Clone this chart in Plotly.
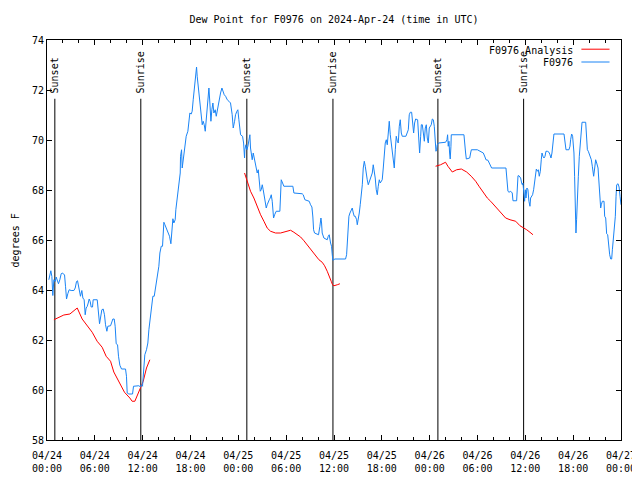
import pandas as pd
import plotly.graph_objects as go

BASE = pd.Timestamp("2024-04-24 00:00")

# Observations (hours since 2024-04-24 00:00 UTC, dew point degF)
obs_hours = [
    0.23,0.36,0.48,0.61,0.73,0.86,1.02,1.15,1.28,1.44,1.61,1.78,1.90,2.20,2.32,2.45,2.61,2.78,3.03,3.37,3.54,3.70,3.83,3.95,4.08,4.20,4.37,4.50,4.66,4.79,4.91,5.04,5.17,5.29,5.42,5.54,5.71,5.79,6.30,6.38,6.50,6.59,6.71,6.88,7.05,7.21,7.34,7.51,7.63,7.97,8.09,8.26,8.43,8.55,8.68,8.85,8.97,9.14,9.35,9.85,9.97,10.06,10.27,10.73,10.85,11.52,11.73,11.81,11.98,12.15,12.27,12.48,12.65,12.78,12.99,13.11,13.28,13.45,13.57,13.74,13.87,14.03,14.16,14.33,14.49,14.66,14.79,15.00,15.20,15.37,15.54,15.66,15.79,15.91,16.08,16.16,
    16.33,16.46,16.58,16.71,16.75,16.88,16.96,17.08,17.21,17.34,17.46,17.67,17.84,17.92,18.09,18.21,18.34,18.47,18.59,18.76,18.84,18.97,19.09,19.26,19.39,19.47,19.59,19.72,19.85,19.97,20.10,20.22,20.31,20.43,20.56,20.68,20.81,20.93,21.10,21.23,21.35,21.48,21.65,21.77,21.94,22.06,22.23,22.40,22.61,22.82,23.02,23.23,23.36,23.53,23.65,23.82,23.94,24.07,24.20,
    24.28,24.53,24.66,24.78,24.82,24.95,25.07,25.20,25.32,25.45,25.53,25.66,25.74,25.87,25.99,26.12,26.24,26.37,26.50,26.62,26.75,26.87,27.00,27.12,27.25,27.37,27.50,27.62,27.75,27.88,28.00,28.13,28.25,28.34,28.42,28.55,28.75,29.21,29.30,29.38,29.55,29.71,30.84,30.97,32.01,32.14,32.35,32.89,33.06,33.23,33.35,33.44,33.56,34.06,34.23,34.36,34.44,34.52,34.73,35.15,35.28,35.40,35.57,35.69,35.78,35.86,36.11,
    37.45,37.58,37.66,37.79,37.87,38.00,38.17,38.29,38.42,38.54,38.67,38.84,38.92,39.04,39.17,39.29,39.42,39.55,39.67,39.80,39.92,40.05,40.17,40.30,40.42,40.55,40.67,40.80,40.92,41.05,41.17,41.30,41.43,41.55,41.68,41.80,42.05,42.18,42.31,42.43,42.56,42.68,42.81,42.93,43.06,43.18,43.31,43.44,43.56,43.69,43.81,43.94,44.06,44.19,44.31,44.44,44.56,45.02,45.19,45.32,45.44,45.57,45.74,45.86,45.99,46.11,46.24,46.49,46.62,46.74,46.87,46.95,47.08,47.20,47.33,47.45,47.58,47.70,47.83,47.95,48.08,48.20,48.33,48.46,48.58,
    48.70,48.79,48.87,48.95,49.12,49.79,50.00,50.17,50.25,50.33,50.42,50.50,50.58,50.67,50.71,52.30,52.39,52.51,52.60,53.02,53.14,53.23,53.98,54.31,54.48,54.73,54.94,55.06,55.31,55.48,55.65,55.77,57.57,57.69,57.82,57.95,58.16,58.36,58.45,58.91,58.99,59.08,59.20,59.41,59.54,59.62,59.70,59.83,59.91,60.00,60.08,60.20,60.33,60.45,60.58,
    60.66,60.79,60.91,61.04,61.17,61.29,61.38,61.50,61.63,61.75,61.88,62.00,62.09,62.21,62.34,62.47,62.59,62.76,62.97,63.09,63.22,63.34,63.47,63.59,64.85,64.97,65.10,65.47,65.60,65.68,65.81,65.93,66.02,66.10,66.18,66.27,66.35,66.43,66.52,66.65,66.77,66.90,67.02,67.11,67.57,67.61,67.69,67.78,67.90,68.03,68.15,68.28,68.40,68.49,68.57,68.70,68.82,68.95,69.03,69.12,69.20,69.28,69.37,69.45,69.53,69.66,69.87,69.95,70.08,70.20,70.33,70.45,70.58,70.71,70.83,70.92,71.04,71.17,71.29,71.38,71.46,71.63,71.76,71.88,72.00,
]
obs_dewpt = [
    64.41,64.61,64.77,64.54,63.78,64.41,64.34,64.52,64.41,64.25,64.41,64.65,64.68,64.61,64.15,63.64,63.85,64.01,63.98,63.98,64.08,64.34,64.37,64.15,64.01,63.75,63.98,63.68,63.61,63.01,63.28,63.34,63.48,63.64,63.54,63.32,63.32,63.61,63.61,63.34,62.88,62.65,62.88,63.21,63.24,63.01,62.61,62.35,62.55,62.57,62.68,62.84,62.84,62.55,61.85,61.81,61.35,60.99,60.84,60.84,60.55,59.88,59.84,59.84,60.15,60.17,60.12,60.21,60.15,61.15,61.41,61.61,61.88,62.41,62.95,63.41,63.75,63.75,64.01,64.41,64.75,64.95,65.48,65.75,65.75,66.71,66.61,66.41,66.28,66.15,65.85,66.55,66.85,66.68,66.81,67.21,
    67.61,68.01,68.28,68.68,69.35,69.61,68.88,69.21,69.48,70.01,70.15,70.35,70.81,71.08,71.04,71.15,71.61,72.01,72.48,72.92,72.55,72.15,71.88,71.35,70.95,70.61,70.75,70.61,70.35,70.81,71.48,71.75,72.08,71.48,70.75,71.21,71.48,71.08,71.21,70.95,71.15,71.48,71.68,71.88,72.08,71.95,71.81,71.75,71.61,71.55,71.48,71.01,70.48,70.75,71.01,71.15,71.21,70.81,70.48,
    70.21,70.15,69.88,69.28,69.61,69.81,69.61,69.75,70.08,70.21,69.68,69.41,69.21,69.48,69.28,68.95,68.81,68.68,68.81,68.28,67.95,68.01,68.21,68.01,67.81,67.61,67.28,67.41,67.55,67.61,67.68,67.81,67.55,67.15,66.88,67.01,67.15,67.15,67.61,68.41,68.28,68.15,68.15,67.88,67.85,67.81,67.61,67.55,67.41,67.32,66.92,66.41,66.28,66.21,66.55,66.88,66.68,66.28,66.08,66.01,66.15,66.21,65.88,65.75,65.41,65.19,65.24,
    65.24,65.41,65.75,66.41,66.95,67.08,67.21,67.28,67.08,66.95,66.95,66.81,66.61,66.81,67.08,67.41,67.75,68.21,68.88,69.15,68.95,68.61,68.41,68.21,68.35,68.41,68.55,68.68,69.01,68.75,68.48,68.01,67.81,68.15,68.41,68.28,68.41,68.88,69.41,69.88,70.01,69.81,70.28,70.75,70.21,69.88,69.41,69.08,68.88,69.61,70.15,69.95,69.88,70.55,70.81,70.28,70.15,70.15,70.28,70.41,71.01,71.11,71.11,70.61,70.28,70.68,70.84,70.81,70.28,69.48,70.15,70.61,70.61,70.28,69.95,70.48,70.61,70.08,69.88,70.48,70.55,70.61,70.84,70.81,70.55,
    69.81,69.55,69.61,69.81,69.88,69.88,69.91,70.01,70.21,69.75,69.95,69.48,69.24,69.75,70.21,70.21,69.75,69.48,69.24,69.28,69.48,69.61,69.61,69.55,69.51,69.48,69.32,69.21,69.19,69.08,69.01,68.88,68.88,68.41,67.95,67.91,67.95,67.88,67.57,67.57,68.01,68.57,68.57,68.48,68.28,68.21,68.28,67.85,67.55,68.01,67.68,68.08,68.01,67.55,67.35,
    67.68,67.77,67.81,68.01,68.35,68.68,68.84,68.75,68.81,68.55,68.75,69.21,69.48,69.35,69.28,69.35,69.55,69.55,69.51,69.41,69.28,69.48,69.95,70.24,70.24,69.95,69.61,69.61,69.75,70.01,70.24,70.15,69.88,69.48,68.55,67.21,66.28,66.81,67.88,68.55,69.35,70.01,70.41,70.71,70.71,70.41,69.95,69.61,69.55,69.41,69.28,69.21,68.95,68.75,68.55,68.88,69.21,69.08,69.01,68.88,68.48,68.01,67.68,67.28,67.41,67.55,67.55,66.95,66.88,66.25,66.21,65.75,65.41,65.24,65.24,65.61,66.01,66.55,66.95,67.75,68.21,68.25,68.12,67.75,67.41,
]

# Analysis (three overnight segments, None = gap)
ana_hours = [
    0.86,2.11,2.87,3.79,4.41,5.04,5.67,6.29,6.92,7.42,7.97,8.38,9.10,9.72,10.39,10.68,11.02,11.56,12.07,12.48,12.90, None,
    24.78,25.20,25.53,25.95,26.37,26.79,27.21,27.62,28.04,28.67,29.30,29.93,30.55,30.97,31.39,31.81,32.23,32.64,33.06,33.48,34.11,34.52,34.82,35.15,35.44,35.65,35.82,35.99,36.41,36.74, None,
    48.74,49.37,49.99,50.29,50.84,51.38,51.97,52.64,53.22,53.77,54.19,54.60,55.23,55.65,56.07,56.48,56.90,57.53,58.08,58.79,59.33,59.83,60.17,60.58,60.96,
]
ana_dewpt = [
    62.81,63.00,63.04,63.28,62.84,62.59,62.31,61.95,61.71,61.35,61.15,60.72,60.25,59.91,59.68,59.55,59.55,59.94,60.35,60.88,61.21, None,
    68.68,68.25,67.95,67.68,67.32,67.01,66.75,66.48,66.35,66.28,66.28,66.33,66.39,66.31,66.21,66.12,65.97,65.81,65.64,65.45,65.21,65.11,64.97,64.75,64.55,64.35,64.21,64.17,64.21,64.25, None,
    68.95,69.01,69.11,68.95,68.72,68.81,68.84,68.72,68.55,68.35,68.15,67.95,67.68,67.55,67.39,67.25,67.11,66.88,66.81,66.75,66.57,66.48,66.41,66.31,66.21,
]

sun_event_times = ["2024-04-24 00:59", "2024-04-24 11:46", "2024-04-25 01:04",
                   "2024-04-25 11:52", "2024-04-26 01:02", "2024-04-26 11:47"]
sun_event_names = ["Sunset", "Sunrise", "Sunset", "Sunrise", "Sunset", "Sunrise"]

y_min, y_max = 58, 74
sun_line_top = 71.65

FONT = "DejaVu Sans Mono"

# The page body has an 8px default margin, so the figure is 8px smaller
# on the top/left side to keep the plot area where the reference has it.
FIG_W, FIG_H = 632, 472


def to_time(hours):
    return [None if h is None else BASE + pd.Timedelta(hours=h) for h in hours]


fig = go.Figure()

# Sun event lines
for t in sun_event_times:
    fig.add_trace(go.Scatter(x=[t, t], y=[y_min, sun_line_top], mode="lines",
                             line=dict(color="black", width=1), showlegend=False,
                             hoverinfo="skip"))

fig.add_trace(go.Scatter(x=to_time(ana_hours), y=ana_dewpt, mode="lines",
                         line=dict(color="#ff0000", width=1), name="F0976 Analysis",
                         connectgaps=False, showlegend=False))
fig.add_trace(go.Scatter(x=to_time(obs_hours), y=obs_dewpt, mode="lines",
                         line=dict(color="#1a84f5", width=1), name="F0976",
                         showlegend=False))

annotations = []
for t, name in zip(sun_event_times, sun_event_names):
    annotations.append(dict(x=t, y=0.861, xref="x", yref="paper", text=name,
                            textangle=-90, showarrow=False, xanchor="center",
                            yanchor="bottom", font=dict(family=FONT, size=10, color="black")))

# custom gnuplot-style key (text, then line sample)
key_items = [("F0976 Analysis", "#ff0000", 0.975), ("F0976", "#1a84f5", 0.943)]
shapes = []
for label, color, yk in key_items:
    annotations.append(dict(x=0.92, y=yk, xref="paper", yref="paper", text=label,
                            showarrow=False, xanchor="right", yanchor="middle",
                            font=dict(family=FONT, size=10, color="black")))
    shapes.append(dict(type="line", xref="paper", yref="paper", x0=0.931, x1=0.980,
                       y0=yk + 0.002, y1=yk + 0.002, line=dict(color=color, width=1)))

annotations.append(dict(x=-0.055, y=0.5, xref="paper", yref="paper", text="degrees F",
                        textangle=-90, showarrow=False, xanchor="center", yanchor="middle",
                        font=dict(family=FONT, size=10, color="black")))

fig.update_layout(
    width=FIG_W, height=FIG_H,
    margin=dict(l=39, r=19, t=32, b=40, autoexpand=False),
    paper_bgcolor="white", plot_bgcolor="white",
    font=dict(family=FONT, size=10, color="black"),
    title=dict(text="Dew Point for F0976 on 2024-Apr-24 (time in UTC)", x=0.5, xref="paper",
               y=1 - 11 / FIG_H, yref="container", xanchor="center", yanchor="middle",
               font=dict(family=FONT, size=10, color="black")),
    showlegend=False,
    annotations=annotations,
    shapes=shapes,
)

fig.update_xaxes(
    type="date", automargin=False,
    range=["2024-04-24 00:00", "2024-04-27 00:00"],
    dtick=6 * 3600 * 1000, tick0="2024-04-24 00:00",
    tickformat="%m/%d<br>%H:%M",
    ticks="inside", ticklen=5, tickcolor="black", tickwidth=1,
    ticklabelstandoff=6,
    minor=dict(dtick=2 * 3600 * 1000, ticks="inside", ticklen=3, tickcolor="black"),
    showline=True, linecolor="black", linewidth=1, mirror="allticks",
    showgrid=False, zeroline=False,
    tickfont=dict(family=FONT, size=10, color="black"),
)
fig.update_yaxes(
    automargin=False,
    range=[y_min, y_max], dtick=2,
    ticks="inside", ticklen=5, tickcolor="black", tickwidth=1,
    showline=True, linecolor="black", linewidth=1, mirror="allticks",
    showgrid=False, zeroline=False,
    tickfont=dict(family=FONT, size=10, color="black"),
)

fig.write_html("out.html")
